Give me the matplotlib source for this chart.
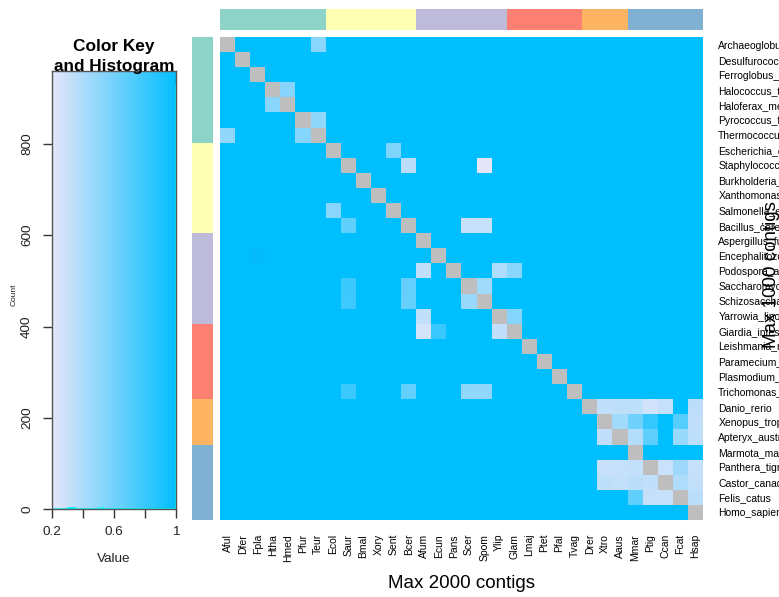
import numpy as np
import matplotlib
matplotlib.use("Agg")
import matplotlib.pyplot as plt
from matplotlib.colors import LinearSegmentedColormap, ListedColormap, Normalize

plt.rcParams["font.family"] = ["Liberation Sans", "DejaVu Sans"]

# ---- data -------------------------------------------------------------
species = [
    "Archaeoglobus_fulgidus", "Desulfurococcus_fermentans", "Ferroglobus_placidus",
    "Halococcus_thailandensis", "Haloferax_mediterranei", "Pyrococcus_furiosus",
    "Thermococcus_eurythermalis", "Escherichia_coli", "Staphylococcus_aureus",
    "Burkholderia_mallei", "Xanthomonas_oryzae", "Salmonella_enterica",
    "Bacillus_cereus", "Aspergillus_fumigatus", "Encephalitozoon_cuniculi",
    "Podospora_anserina", "Saccharomyces_cerevisiae", "Schizosaccharomyces_pombe",
    "Yarrowia_lipolytica", "Giardia_intestinalis", "Leishmania_major",
    "Paramecium_tetraurelia", "Plasmodium_falciparum", "Trichomonas_vaginalis",
    "Danio_rerio", "Xenopus_tropicalis", "Apteryx_australis", "Marmota_marmota",
    "Panthera_tigris", "Castor_canadensis", "Felis_catus", "Homo_sapiens",
]
abbrev = [
    "Aful", "Dfer", "Fpla", "Htha", "Hmed", "Pfur", "Teur", "Ecol", "Saur", "Bmal",
    "Xory", "Sent", "Bcer", "Afum", "Ecun", "Pans", "Scer", "Spom", "Ylip", "Glam",
    "Lmaj", "Ptet", "Pfal", "Tvag", "Drer", "Xtro", "Aaus", "Mmar", "Ptig", "Ccan",
    "Fcat", "Hsap",
]
group_sizes = [7, 6, 6, 5, 3, 5]
group_colors = ["#8DD3C7", "#FFFFB3", "#BEBADA", "#FB8072", "#FDB462", "#80B1D3"]

# pairwise scores that differ from 1 (row species, column species, score)
pair_scores = [
    ("Aful", "Teur", 0.521), ("Htha", "Hmed", 0.530), ("Hmed", "Htha", 0.524),
    ("Pfur", "Teur", 0.503), ("Teur", "Aful", 0.498), ("Teur", "Pfur", 0.534),
    ("Ecol", "Sent", 0.552), ("Saur", "Bcer", 0.352), ("Saur", "Spom", 0.200),
    ("Sent", "Ecol", 0.527), ("Bcer", "Saur", 0.668), ("Bcer", "Scer", 0.312),
    ("Bcer", "Spom", 0.309), ("Ecun", "Fpla", 1.02),
    ("Pans", "Afum", 0.331), ("Pans", "Ylip", 0.391), ("Pans", "Glam", 0.528),
    ("Scer", "Saur", 0.791), ("Scer", "Bcer", 0.652), ("Scer", "Spom", 0.442),
    ("Spom", "Saur", 0.786), ("Spom", "Bcer", 0.648), ("Spom", "Scer", 0.472),
    ("Ylip", "Afum", 0.336), ("Ylip", "Glam", 0.533),
    ("Glam", "Afum", 0.262), ("Glam", "Ecun", 0.802), ("Glam", "Ylip", 0.327),
    ("Tvag", "Saur", 0.794), ("Tvag", "Bcer", 0.655), ("Tvag", "Scer", 0.501),
    ("Tvag", "Spom", 0.496),
    ("Drer", "Xtro", 0.334), ("Drer", "Aaus", 0.338), ("Drer", "Mmar", 0.341),
    ("Drer", "Ptig", 0.272), ("Drer", "Ccan", 0.318), ("Drer", "Hsap", 0.345),
    ("Xtro", "Aaus", 0.438), ("Xtro", "Mmar", 0.612), ("Xtro", "Ptig", 0.818),
    ("Xtro", "Fcat", 0.703), ("Xtro", "Hsap", 0.329),
    ("Aaus", "Xtro", 0.326), ("Aaus", "Mmar", 0.372), ("Aaus", "Ptig", 0.671),
    ("Aaus", "Fcat", 0.468), ("Aaus", "Hsap", 0.343),
    ("Ptig", "Xtro", 0.306), ("Ptig", "Aaus", 0.314), ("Ptig", "Mmar", 0.322),
    ("Ptig", "Ccan", 0.303), ("Ptig", "Fcat", 0.447), ("Ptig", "Hsap", 0.316),
    ("Ccan", "Xtro", 0.339), ("Ccan", "Aaus", 0.324), ("Ccan", "Mmar", 0.347),
    ("Ccan", "Ptig", 0.332), ("Ccan", "Fcat", 0.386), ("Ccan", "Hsap", 0.321),
    ("Fcat", "Mmar", 0.664), ("Fcat", "Ptig", 0.308), ("Fcat", "Ccan", 0.311),
    ("Fcat", "Hsap", 0.349),
]
key_ticks = [0.2, 0.4, 0.6, 0.8, 1.0]
key_tick_labels = ["0.2", "", "0.6", "", "1"]
count_ticks = [0, 200, 400, 600, 800]

# ---- matrix -------------------------------------------------------------
n = len(abbrev)
pos = {a: i for i, a in enumerate(abbrev)}
mat = np.ones((n, n))
for r, c, v in pair_scores:
    mat[pos[r], pos[c]] = v
np.fill_diagonal(mat, np.nan)
group_idx = np.repeat(np.arange(len(group_sizes)), group_sizes)

cmap = LinearSegmentedColormap.from_list("lav_sky", ["#E6E6FA", "#00BFFF"], N=256)
cmap.set_bad("#BEBEBE")
cmap.set_over("#03BBFA")
norm = Normalize(vmin=0.2, vmax=1.0)
grp_cmap = ListedColormap(group_colors)

# ---- figure -------------------------------------------------------------
W, H = 779, 597
fig = plt.figure(figsize=(W / 100, H / 100), dpi=100)


def box(x0, y0, x1, y1):
    return [x0 / W, 1 - y1 / H, (x1 - x0) / W, (y1 - y0) / H]


# main heatmap
ax = fig.add_axes(box(220, 37, 703, 520))
ax.imshow(np.ma.masked_invalid(mat), cmap=cmap, norm=norm, aspect="auto",
          interpolation="nearest")
ax.set_xticks(np.arange(n))
ax.set_xticklabels(abbrev, rotation=90, fontsize=7.5)
ax.set_yticks(np.arange(n))
ax.set_yticklabels(species, fontsize=7.5)
ax.yaxis.tick_right()
ax.tick_params(axis="x", length=0, pad=10)
ax.tick_params(axis="y", length=0, pad=11)
for lab in ax.get_xticklabels():
    lab.set_va("top")
for lab in ax.get_yticklabels():
    lab.set_va("center_baseline")
for s in ax.spines.values():
    s.set_visible(False)

# column group bar
axc = fig.add_axes(box(220, 9, 703, 30))
axc.imshow(group_idx[None, :], cmap=grp_cmap, aspect="auto", interpolation="nearest",
           vmin=-0.5, vmax=len(group_sizes) - 0.5)
axc.axis("off")

# row group bar
axr = fig.add_axes(box(192, 37, 213, 520))
axr.imshow(group_idx[:, None], cmap=grp_cmap, aspect="auto", interpolation="nearest",
           vmin=-0.5, vmax=len(group_sizes) - 0.5)
axr.axis("off")

# axis titles
fig.text(461 / W, 1 - 588 / H, "Max 2000 contigs", fontsize=13.5, ha="center",
         va="baseline")
fig.text(771.5 / W, 1 - 275 / H, "Max 1000 contigs", fontsize=13.5, rotation=90,
         ha="center", va="center")

# ---- colour key with histogram -----------------------------------------
vals = mat[np.isfinite(mat)]
edges = np.linspace(0.2, 1.0, 257)
counts, _ = np.histogram(vals, bins=edges)
ymax = 960

axk = fig.add_axes(box(52, 71, 176, 509))
grad = np.linspace(0.2, 1.0, 400)[None, :]
axk.imshow(grad, cmap=cmap, norm=norm, aspect="auto", extent=[0.2, 1.0, 0, ymax],
           interpolation="bilinear")
axk.step(edges, np.append(counts, counts[-1]), where="post", color="cyan", lw=1.1)
axk.set_xlim(0.2, 1.0)
axk.set_ylim(0, ymax)
axk.set_xticks(key_ticks)
axk.set_xticklabels(key_tick_labels, fontsize=9.7)
axk.set_yticks(count_ticks)
axk.set_yticklabels([str(t) for t in count_ticks], fontsize=9.7)
for lab in axk.get_yticklabels():
    lab.set_rotation(90)
    lab.set_va("center")
    lab.set_ha("right")
axk.tick_params(axis="both", length=6.5, width=1, color="#333333", labelcolor="#222222")
axk.tick_params(axis="y", pad=7)
axk.tick_params(axis="x", pad=6)
for s in axk.spines.values():
    s.set_color("#555555")
    s.set_linewidth(1)

fig.text(114 / W, 1 - 51 / H, "Color Key", fontsize=12.4, fontweight="bold",
         ha="center", va="baseline")
fig.text(114 / W, 1 - 71 / H, "and Histogram", fontsize=12.4, fontweight="bold",
         ha="center", va="baseline")
fig.text(114 / W, 1 - 562 / H, "Value", fontsize=9.7, ha="center", va="baseline",
         color="#222222")
fig.text(14 / W, 1 - 295 / H, "Count", fontsize=6, rotation=90, ha="center",
         va="center", color="#222222")

fig.savefig("out.png", dpi=100)
